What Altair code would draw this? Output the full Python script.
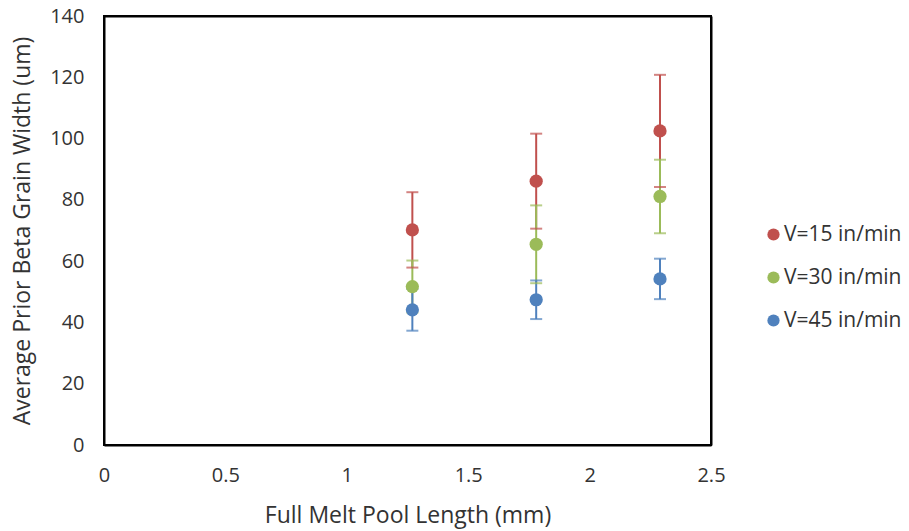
import altair as alt
import pandas as pd

x_vals = [1.27, 1.78, 2.29]
series_names = ["V=15 in/min", "V=30 in/min", "V=45 in/min"]
means_15 = [70.2, 86.1, 102.5]
errs_15 = [12.3, 15.5, 18.3]
means_30 = [51.7, 65.5, 81.1]
errs_30 = [8.5, 12.7, 12.0]
means_45 = [44.1, 47.4, 54.2]
errs_45 = [6.8, 6.3, 6.6]
colors = ["#C0504D", "#9BBB59", "#4F81BD"]
x_ticks = [0, 0.5, 1, 1.5, 2, 2.5]
y_ticks = [0, 20, 40, 60, 80, 100, 120, 140]

rows = []
for name, means, errs in zip(series_names, [means_15, means_30, means_45], [errs_15, errs_30, errs_45]):
    for xv, m, e in zip(x_vals, means, errs):
        rows.append({"series": name, "x": xv, "y": m, "err": e})
df = pd.DataFrame(rows)

FONT = "Open Sans"
TXT = "#333333"

xscale = alt.Scale(domain=[0, 2.5], nice=False)
yscale = alt.Scale(domain=[0, 140], nice=False)
color = alt.Color("series:N", scale=alt.Scale(domain=series_names, range=colors),
                  legend=alt.Legend(title=None, orient="none", legendX=659, legendY=208,
                                    symbolType="circle", symbolSize=150, symbolStrokeWidth=0,
                                    symbolOpacity=1,
                                    labelFontSize=21, labelFont=FONT, labelColor=TXT,
                                    rowPadding=21, labelOffset=0, padding=0, labelLimit=200))

base = alt.Chart(df).transform_calculate(lo="datum.y - datum.err", hi="datum.y + datum.err")

x_noaxis = alt.X("x:Q", scale=xscale, axis=None)

bars = base.mark_rule(strokeWidth=2).encode(
    x=x_noaxis, y=alt.Y("lo:Q", scale=yscale, axis=None), y2="hi:Q", color=color)
cap_lo = base.mark_tick(orient="horizontal", size=12, thickness=2).encode(
    x=x_noaxis, y=alt.Y("lo:Q", scale=yscale, axis=None), color=color)
cap_hi = base.mark_tick(orient="horizontal", size=12, thickness=2).encode(
    x=x_noaxis, y=alt.Y("hi:Q", scale=yscale, axis=None), color=color)
pts = base.mark_circle(size=175, opacity=1).encode(
    x=alt.X("x:Q", scale=xscale,
            axis=alt.Axis(values=x_ticks, title="Full Melt Pool Length (mm)",
                          labelExpr="format(datum.value, '~g')", labelFlush=False)),
    y=alt.Y("y:Q", scale=yscale,
            axis=alt.Axis(values=y_ticks, title="Average Prior Beta Grain Width (um)",
                          labelFlush=False)),
    color=color)

frame = base.mark_point(opacity=0).encode(
    x=alt.X("x:Q", scale=xscale,
            axis=alt.Axis(orient="top", values=x_ticks, labels=False, grid=False, title=None,
                          domain=True, domainColor="black", domainWidth=2)),
    y=alt.Y("y:Q", scale=yscale,
            axis=alt.Axis(orient="right", values=y_ticks, labels=False, grid=False, title=None,
                          domain=True, domainColor="black", domainWidth=2)),
)

chart = alt.layer(bars, cap_lo, cap_hi, pts, frame).resolve_axis(
    x="independent", y="independent"
).properties(
    width=607, height=429,
    autosize=alt.AutoSizeParams(type="none"),
    padding={"left": 104, "top": 16, "right": 198, "bottom": 86},
).configure_view(stroke="black", strokeWidth=2).configure_axis(
    grid=True, gridColor="#D9D9D9", gridWidth=2, ticks=False,
    domain=True, domainColor="black", domainWidth=2,
    labelFont=FONT, labelFontSize=20, labelColor=TXT,
    titleFont=FONT, titleFontSize=23, titleColor=TXT, titleFontWeight="normal",
).configure_axisX(labelPadding=20, titlePadding=19).configure_axisY(labelPadding=20, titlePadding=15)

chart.save("out.html", embed_options={"renderer": "svg", "actions": False})
